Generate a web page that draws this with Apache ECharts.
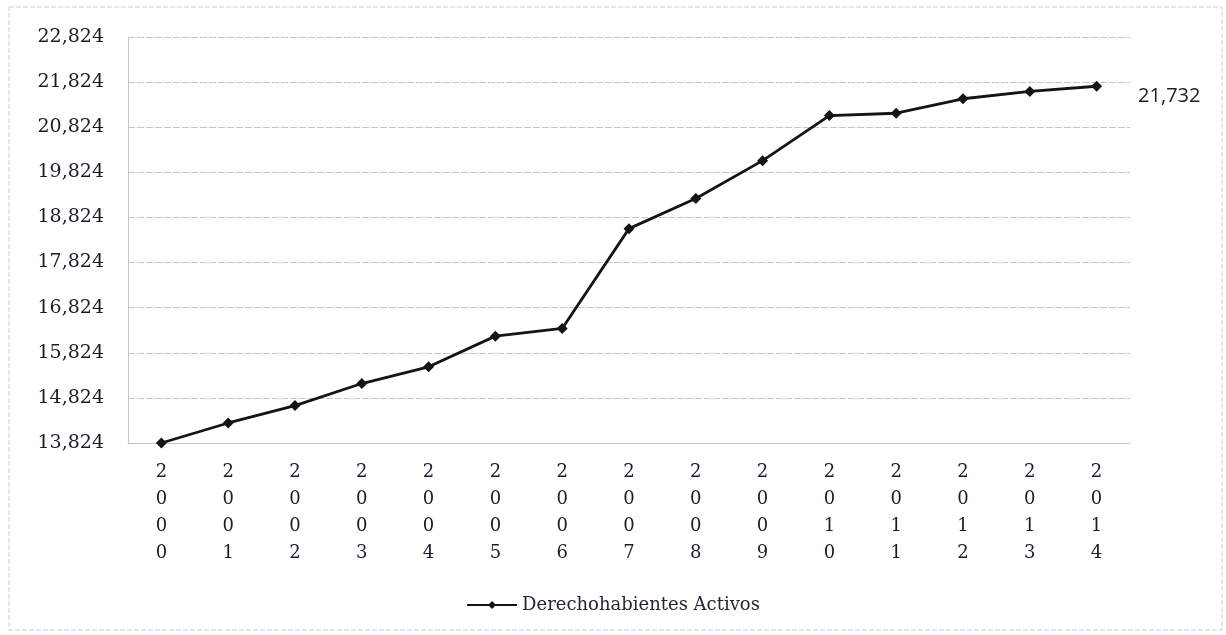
<!DOCTYPE html>
<html>
<head>
<meta charset="utf-8">
<script src="https://cdn.jsdelivr.net/npm/echarts@6/dist/echarts.min.js"></script>
<style>
  html, body { margin: 0; padding: 0; background: #fff; }
  #chart { width: 1226px; height: 635px; }
</style>
</head>
<body>
<div id="chart"></div>
<script>
const years = ['2000','2001','2002','2003','2004','2005','2006','2007','2008','2009','2010','2011','2012','2013','2014'];
const activos = [13824, 14268, 14653, 15142, 15513, 16193, 16364, 18576, 19244, 20083, 21083, 21134, 21455, 21618, 21732];
const yTicks = [13824, 14824, 15824, 16824, 17824, 18824, 19824, 20824, 21824, 22824];
const seriesName = 'Derechohabientes Activos';

const gridColor = '#cdbfdc';
const chart = echarts.init(document.getElementById('chart'), null, { renderer: 'canvas' });
chart.setOption({
  backgroundColor: '#ffffff',
  animation: false,
  graphic: [{
    type: 'rect',
    shape: { x: 9, y: 7, width: 1213, height: 623 },
    style: { fill: 'none', stroke: '#d4c8e2', lineWidth: 1, lineDash: [5, 2] },
    silent: true
  }],
  grid: { left: 128, right: 96, top: 37, bottom: 192, containLabel: false },
  legend: {
    bottom: 16,
    left: 'center',
    itemWidth: 50,
    itemHeight: 10,
    itemGap: 4,
    textStyle: { fontFamily: 'DejaVu Serif', fontSize: 18, color: '#2a2238' },
    data: [seriesName]
  },
  xAxis: {
    type: 'category',
    data: years,
    boundaryGap: true,
    axisLine: { show: true, lineStyle: { color: gridColor, width: 1 } },
    axisTick: { show: false },
    axisLabel: {
      margin: 16,
      fontFamily: 'DejaVu Serif',
      fontSize: 18,
      color: '#1c1c28',
      lineHeight: 27,
      interval: 0,
      formatter: v => String(v).split('').join('\n')
    }
  },
  yAxis: {
    type: 'value',
    min: yTicks[0],
    max: yTicks[yTicks.length - 1],
    axisLine: { show: true, lineStyle: { color: gridColor, width: 1 } },
    axisTick: { show: false, customValues: yTicks },
    splitLine: { show: true, lineStyle: { color: gridColor, width: 1, type: [7, 2] } },
    axisLabel: {
      customValues: yTicks,
      margin: 24,
      fontFamily: 'DejaVu Serif',
      fontSize: 19,
      color: '#1c1c28',
      formatter: v => Number(v).toLocaleString('en-US')
    }
  },
  series: [{
    name: seriesName,
    type: 'line',
    data: activos,
    symbol: 'diamond',
    symbolSize: 11,
    lineStyle: { color: '#141414', width: 2.8 },
    itemStyle: { color: '#141414' },
    label: {
      show: true,
      position: 'right',
      distance: 36,
      offset: [0, 10],
      fontFamily: 'Open Sans',
      fontSize: 20,
      color: '#1e1e1e',
      formatter: p => p.dataIndex === activos.length - 1 ? Number(p.value).toLocaleString('en-US') : ''
    }
  }]
});
</script>
</body>
</html>
